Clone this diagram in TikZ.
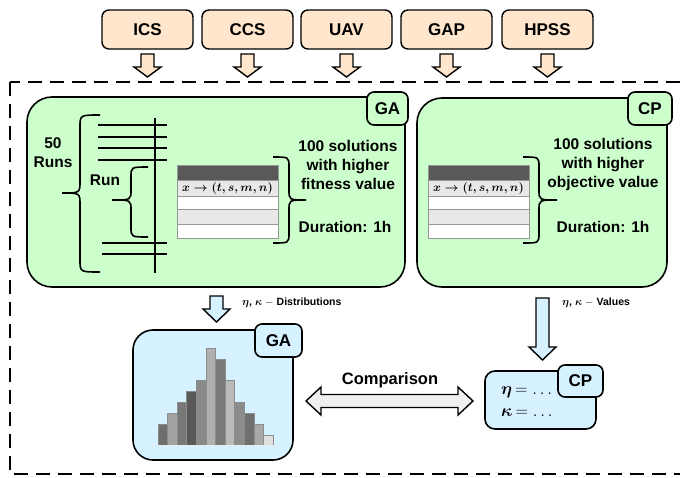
\documentclass[tikz,border=0pt]{standalone}
\usepackage{fontspec}
\setmainfont{Liberation Sans}
\usepackage{amsmath}
\definecolor{peach}{RGB}{255,230,204}
\definecolor{lgreen}{RGB}{204,255,204}
\definecolor{lblue}{RGB}{214,241,255}
\definecolor{cmpgray}{RGB}{240,240,240}
\definecolor{rowgray}{RGB}{232,232,232}
\definecolor{hdrgray}{RGB}{89,89,89}
\definecolor{tblline}{RGB}{150,150,150}
\DeclareRobustCommand{\BM}[1]{\mbox{\boldmath$#1$}}
% block arrow pointing down: x, ytop, ytip, shaft half, head half, head length, style
\newcommand{\BlkDown}[7]{%
  \draw[#7] ({#1-#4},#2) -- ({#1+#4},#2) -- ({#1+#4},{#3-#6}) -- ({#1+#5},{#3-#6})
    -- (#1,#3) -- ({#1-#5},{#3-#6}) -- ({#1-#4},{#3-#6}) -- cycle;}
% double block arrow: xleft, xright, yc, shaft half, head half, head length, style
\newcommand{\BlkDouble}[7]{%
  \draw[#7] (#1,#3) -- ({#1+#6},{#3-#5}) -- ({#1+#6},{#3-#4}) -- ({#2-#6},{#3-#4})
    -- ({#2-#6},{#3-#5}) -- (#2,#3) -- ({#2-#6},{#3+#5}) -- ({#2-#6},{#3+#4})
    -- ({#1+#6},{#3+#4}) -- ({#1+#6},{#3+#5}) -- cycle;}
% curly brace: xend, xvert, xtip, ytop, ytip, ybot, radius
\newcommand{\CBrace}[7]{%
  \draw[brc] (#1,#4) .. controls (#2,#4) .. (#2,{#4+#7}) -- (#2,{#5-#7})
    .. controls (#2,#5) .. (#3,#5) .. controls (#2,#5) .. (#2,{#5+#7})
    -- (#2,{#6-#7}) .. controls (#2,#6) .. (#1,#6);}
% solutions table at left x
\newcommand{\SolTable}[1]{%
  \fill[hdrgray] (#1,165) rectangle ++(101,15);
  \filldraw[draw=tblline, line width=0.8pt, fill=rowgray] (#1,180) rectangle ++(101,16);
  \filldraw[draw=tblline, line width=0.8pt, fill=white] (#1,196) rectangle ++(101,13);
  \filldraw[draw=tblline, line width=0.8pt, fill=rowgray] (#1,209) rectangle ++(101,15);
  \filldraw[draw=tblline, line width=0.8pt, fill=white] (#1,224) rectangle ++(101,14);
  \draw[tblline, line width=0.8pt] (#1,165) rectangle ++(101,73);
  \node[font=\fontsize{13}{15}\selectfont, inner sep=0pt] at ({#1+50.5},188.5) {\BM{x \rightarrow (t, s, m, n)}};}
\begin{document}
\begin{tikzpicture}[x=1pt,y=-1pt,
  topbox/.style={draw, line width=1.4pt, rounded corners=7pt, fill=peach, minimum width=91pt,
    minimum height=39pt, inner sep=0pt, font=\bfseries\fontsize{17}{20}\selectfont},
  tag/.style={draw, line width=1.6pt, rounded corners=7pt, inner sep=0pt,
    font=\bfseries\fontsize{17}{20}\selectfont},
  bigbox/.style={draw, line width=1.6pt, inner sep=0pt},
  txt/.style={font=\bfseries\fontsize{15.5}{19}\selectfont, align=center, inner sep=0pt},
  small/.style={font=\bfseries\fontsize{10.5}{12}\selectfont, inner sep=0pt, anchor=west},
  blk/.style={draw, line width=1.4pt, line join=miter},
  brc/.style={line width=1.6pt},
  ln/.style={line width=1.6pt},
  bar/.style={draw=black!45, line width=0.5pt}]
\useasboundingbox (0,0) rectangle (680,477);

% top problem boxes
\node[topbox] (ics) at (147.5,29.5) {ICS};
\node[topbox] (ccs) at (247.5,29.5) {CCS};
\node[topbox] (uav) at (346.5,29.5) {UAV};
\node[topbox] (gap) at (446.5,29.5) {GAP};
\node[topbox] (hpss) at (547.5,29.5) {HPSS};
\foreach \x in {147.5,247.5,346.5,446.5,547.5}{\BlkDown{\x}{54}{77}{6.5}{13.5}{10}{blk,fill=peach}}

% dashed frame
\draw[line width=1.6pt, dash pattern=on 14pt off 8pt] (10,82) rectangle (690,474);

% GA box
\node[bigbox, fill=lgreen, rounded corners=25pt, minimum width=378pt, minimum height=190pt] (gabox) at (216,192) {};
\node[tag, fill=lgreen, minimum width=41pt, minimum height=33pt] (gatag) at (387.5,108.5) {GA};
% CP box
\node[bigbox, fill=lgreen, rounded corners=25pt, minimum width=250pt, minimum height=189pt] (cpbox) at (542,192.5) {};
\node[tag, fill=lgreen, minimum width=44pt, minimum height=33pt] (cptag) at (650,108.5) {CP};

% GA content
\node[txt] (runs) at (53,152.5) {50\\Runs};
\CBrace{100}{80}{62}{115}{193}{272}{12}
\foreach \y in {125,137,148,160}{\draw[ln] (98,\y) -- (167,\y);}
\foreach \y in {243,254}{\draw[ln] (102,\y) -- (167,\y);}
\draw[ln] (155,118) -- (155,273);
\node[txt] (run) at (105,180) {Run};
\CBrace{148}{131}{112}{167}{200}{237}{10}
\SolTable{177}
\CBrace{273}{289}{306}{157}{200}{243}{10}
\node[txt] (gasol) at (348,164.5) {100 solutions\\with higher\\fitness value};
\node[txt] (gadur) at (345,227) {Duration: 1h};

% CP content
\SolTable{428}
\CBrace{523}{539}{557}{157}{200}{243}{10}
\node[txt] (cpsol) at (603,164.5) {100 solutions\\with higher\\objective value};
\node[txt] (cpdur) at (603,227) {Duration: 1h};

% arrows to results
\BlkDown{216.5}{296}{322}{6.5}{13.5}{13}{blk,fill=lblue}
\node[small] (dist) at (242,303) {\BM{\eta}, \BM{\kappa} $-$ Distributions};
\BlkDown{542.5}{298}{360}{6.5}{13.5}{13}{blk,fill=lblue}
\node[small] (vals) at (562,303) {\BM{\eta}, \BM{\kappa} $-$ Values};

% bottom GA box with histogram
\node[bigbox, fill=lblue, rounded corners=20pt, minimum width=160pt, minimum height=130pt] (gares) at (213,395) {};
\node[tag, fill=lblue, minimum width=47pt, minimum height=33pt] (garestag) at (278.5,340.5) {GA};
\foreach \h/\g [count=\i from 0] in {424/57,413/37,402/53,391/65,380/46,348/31,359/52,380/27,402/45,413/56,424/34,435/12}{
  \filldraw[bar, fill=black!\g] ({158+\i*9.58},445) rectangle ({158+(\i+1)*9.58},\h);}
\draw[black!8, line width=1pt] (152,445.5) -- (278,445.5);

% bottom CP box
\node[bigbox, fill=lblue, rounded corners=10pt, minimum width=111pt, minimum height=58pt] (cpres) at (540.5,400) {};
\node[tag, fill=lblue, minimum width=45pt, minimum height=32pt] (cprestag) at (580.5,381) {CP};
\node[anchor=west, inner sep=0pt, font=\fontsize{16.5}{19}\selectfont] (eta) at (501,392) {\BM{\eta}$\, = \dots$};
\node[anchor=west, inner sep=0pt, font=\fontsize{16.5}{19}\selectfont] (kap) at (501,413) {\BM{\kappa}$\, = \dots$};

% comparison
\BlkDouble{306}{473}{401}{6.5}{14}{15}{blk,fill=cmpgray}
\node[font=\bfseries\fontsize{16.5}{19}\selectfont, inner sep=0pt] (cmp) at (390,380) {Comparison};
\end{tikzpicture}
\end{document}
